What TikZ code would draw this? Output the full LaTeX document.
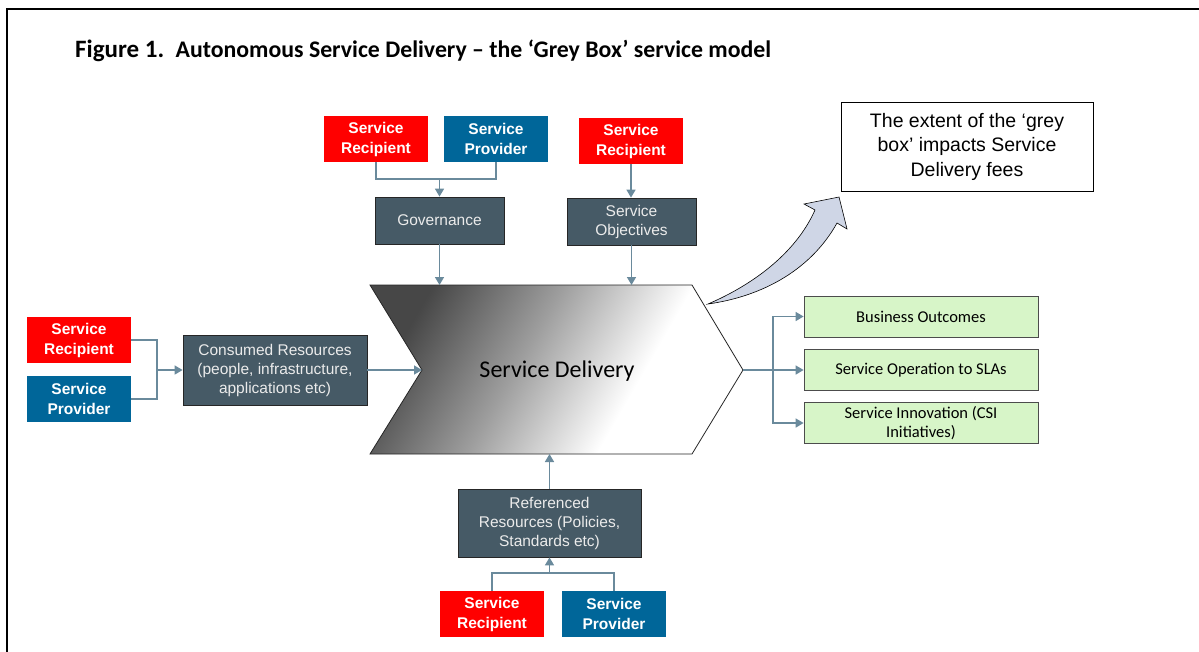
\documentclass[tikz,border=0pt]{standalone}
\usepackage{fontspec}
\setmainfont{Liberation Sans}
\newfontfamily\calibri{Carlito}
\usetikzlibrary{arrows.meta}

\definecolor{recipred}{RGB}{255,0,0}
\definecolor{provblue}{RGB}{0,102,153}
\definecolor{slatebox}{RGB}{70,90,102}
\definecolor{connline}{RGB}{106,138,156}
\definecolor{outgreen}{RGB}{215,245,200}
\definecolor{bluearrow}{RGB}{207,214,230}

% grey to white fill of the service delivery chevron
\pgfdeclarehorizontalshading{sdfill}{100bp}{color(0bp)=(black!72); color(25bp)=(black!72);
  color(44bp)=(black!38); color(63bp)=(white); color(100bp)=(white)}

\begin{document}
\begin{tikzpicture}[x=1pt,y=-1pt,
    recip/.style={fill=recipred,text=white,font=\bfseries\fontsize{15.5}{20}\selectfont,
      align=center,minimum width=104,minimum height=46,inner sep=0pt},
    prov/.style={recip,fill=provblue},
    slate/.style={fill=slatebox,draw=black!85,line width=0.8pt,text=black!8,
      font=\fontsize{15.5}{19}\selectfont,align=center,inner sep=0pt},
    outcome/.style={fill=outgreen,draw=black!70,line width=0.8pt,minimum width=234,
      minimum height=41,inner sep=0pt,align=center,font=\calibri\fontsize{16.5}{19}\selectfont},
    link/.style={draw=connline,line width=1.6pt},
    feed/.style={link,-{Triangle[length=8pt,width=9pt]}}]
  \useasboundingbox (0,0) rectangle (1199,651);
  % frame, right and bottom sides run off the page
  \draw[line width=2pt] (7,8.5) rectangle (1230,680);
  \node[anchor=base west,font=\calibri\bfseries,inner sep=0pt] (title) at (75,57)
    {\fontsize{25}{28}\selectfont Figure 1.\ \ \fontsize{23.8}{26}\selectfont Autonomous Service Delivery – the ‘Grey Box’ service model};

  % chevron
  \coordinate (sd-n) at (557,285);
  \coordinate (sd-s) at (557,454);
  \coordinate (sd-notch) at (422,370);
  \coordinate (sd-tip) at (743,370);
  \shade[shading=sdfill,shading angle=-30,draw=black!85,line width=0.8pt]
    (370,285) -- (692,285) -- (sd-tip) -- (692,454) -- (370,454) -- (sd-notch) -- cycle;
  \node[font=\calibri\fontsize{24}{28}\selectfont] (sd) at (557,371) {Service Delivery};

  % top inputs
  \node[recip] (sr1) at (376,139) {Service\\Recipient};
  \node[prov] (sp1) at (496,139) {Service\\Provider};
  \node[recip] (sr2) at (631,141) {Service\\Recipient};
  \node[slate,minimum width=129,minimum height=47] (gov) at (439.5,220.5) {Governance};
  \node[slate,minimum width=129,minimum height=47] (obj) at (631.5,221.5) {Service\\Objectives};
  \coordinate (govjoin) at (439.5,179);

  % left inputs
  \node[recip] (sr3) at (79,340) {Service\\Recipient};
  \node[prov] (sp3) at (79,399) {Service\\Provider};
  \node[slate,minimum width=184,minimum height=70] (cons) at (275,370)
    {Consumed Resources\\(people, infrastructure,\\applications etc)};
  \coordinate (consjoin) at (157,370);

  % bottom inputs
  \node[slate,minimum width=183,minimum height=68] (rr) at (549.5,523)
    {Referenced\\Resources (Policies,\\Standards etc)};
  \node[recip] (sr4) at (492,614) {Service\\Recipient};
  \node[prov] (sp4) at (614,614) {Service\\Provider};
  \coordinate (rrjoin) at (549.5,573);

  % outputs
  \node[outcome] (bo) at (921,316.5) {Business Outcomes};
  \node[outcome] (sla) at (921,370) {Service Operation to SLAs};
  \node[outcome] (csi) at (921,423) {Service Innovation (CSI\\Initiatives)};
  \coordinate (outjoin) at (773,370);

  \node[draw,line width=0.8pt,minimum width=252,minimum height=89,align=center,
    font=\fontsize{19.5}{24.5}\selectfont] (fees) at (967,146.5)
    {The extent of the ‘grey\\box’ impacts Service\\Delivery fees};

  % curved arrow into the fees note
  \draw[fill=bluearrow,line width=0.6pt] (708,304) .. controls (750,286) and (795,255) .. (815,210)
    -- (804,204) -- (839,197) -- (847,229) -- (837,223)
    .. controls (812,268) and (765,296) .. (708,304) -- cycle;

  \draw[link] (sr1.south) |- (govjoin) -| (sp1.south);
  \draw[feed] (govjoin) -- (gov.north);
  \draw[feed] (gov.south) -- (gov.south |- sd-n);
  \draw[feed] (sr2.south) -- (sr2.south |- obj.north);
  \draw[feed] (obj.south) -- (obj.south |- sd-n);
  \draw[link] (sr3.east) -| (consjoin) |- (sp3.east);
  \draw[feed] (consjoin) -- (cons.west);
  \draw[feed] (cons.east) -- (sd-notch);
  \draw[link] (sr4.north) |- (rrjoin) -| (sp4.north);
  \draw[feed] (rrjoin) -- (rr.south);
  \draw[feed] (rr.north) -- (rr.north |- sd-s);
  \draw[link] (sd-tip) -- (outjoin);
  \draw[feed] (outjoin) |- (bo.west);
  \draw[feed] (outjoin) -- (sla.west);
  \draw[feed] (outjoin) |- (csi.west);
\end{tikzpicture}
\end{document}
